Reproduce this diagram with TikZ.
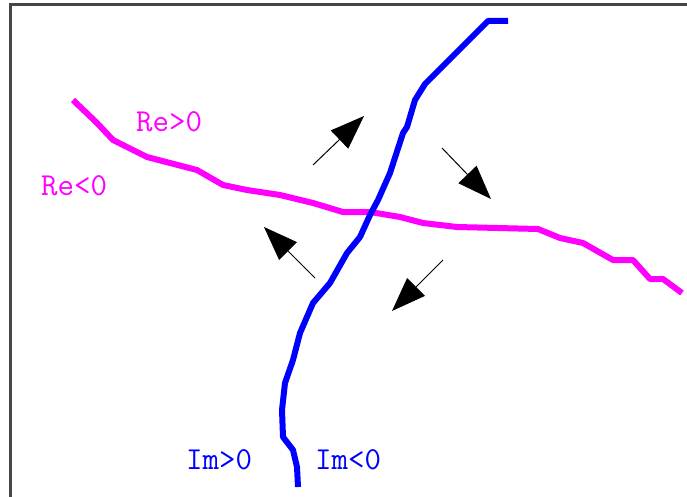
\documentclass[tikz,border=0pt]{standalone}
\usepackage{fontspec}
\usetikzlibrary{arrows.meta}
\definecolor{bordergray}{RGB}{70,70,70}
\definecolor{puremagenta}{RGB}{255,0,255}
\definecolor{pureblue}{RGB}{0,0,255}
\tikzset{
  frame/.style={draw=bordergray, line width=3pt},
  recurve/.style={draw=puremagenta, line width=6pt, line join=round},
  imcurve/.style={draw=pureblue, line width=6pt, line join=round},
  flow/.style={draw=black, line width=1pt, -{Triangle[length=34pt,width=25pt]}},
  relabel/.style={text=puremagenta, font=\ttfamily\fontsize{32}{32}\selectfont, inner sep=0pt},
  imlabel/.style={text=pureblue, font=\ttfamily\fontsize{32}{32}\selectfont, inner sep=0pt}
}
\begin{document}
\begin{tikzpicture}[x=1pt,y=-1pt]
\useasboundingbox (0,0) rectangle (687,497);
\fill[white] (0,0) rectangle (687,497);
\draw[frame] (10,497) -- (10,5) -- (687,5);
% magenta curve
\draw[recurve] (73,100) -- (97,123) -- (113,140) -- (123,145) -- (147,157) -- (170,163)
  -- (197,170) -- (223,185) -- (247,190) -- (280,195) -- (313,203) -- (343,212) -- (370,212)
  -- (400,217) -- (423,223) -- (457,227) -- (538,229) -- (560,238) -- (583,243)
  -- (613,260) -- (633,260) -- (650,279) -- (663,279) -- (682,293);
% blue curve
\draw[imcurve] (508,21) -- (488,21) -- (425,84) -- (415,100) -- (407,127) -- (403,133)
  -- (390,173) -- (378,200) -- (370,215) -- (360,237) -- (347,253) -- (330,283)
  -- (313,303) -- (300,333) -- (293,360) -- (285,383) -- (282,410) -- (283,437)
  -- (293,450) -- (297,467) -- (298,487);
% arrows
\coordinate (a1t) at (313,165); \coordinate (a1h) at (364,116);
\coordinate (a2t) at (442,148); \coordinate (a2h) at (491,199);
\coordinate (a3t) at (315,278); \coordinate (a3h) at (264,227);
\coordinate (a4t) at (443,260); \coordinate (a4h) at (392,311);
\draw[flow] (a1t) -- (a1h);
\draw[flow] (a2t) -- (a2h);
\draw[flow] (a3t) -- (a3h);
\draw[flow] (a4t) -- (a4h);
% labels
\node[relabel, anchor=base west] (regt) at (136,132) {Re>0};
\node[relabel, anchor=base west] (relt) at (41,195) {Re<0};
\node[imlabel, anchor=base west] (imgt) at (186,469) {Im>0};
\node[imlabel, anchor=base west] (imlt) at (315,469) {Im<0};
\end{tikzpicture}
\end{document}
